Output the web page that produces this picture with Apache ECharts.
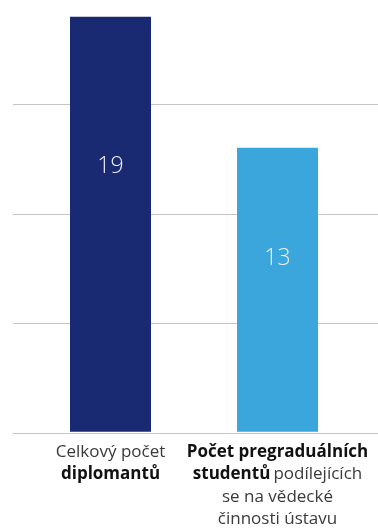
<!DOCTYPE html>
<html>
<head>
<meta charset="utf-8">
<script src="https://cdn.jsdelivr.net/npm/echarts@6/dist/echarts.min.js"></script>
<style>
  html, body { margin: 0; padding: 0; background: #ffffff; overflow: hidden; }
  /* canvas is 5px taller and shifted up so the top value sits just above the page edge */
  #chart { width: 378px; height: 533px; margin-top: -5px; }
</style>
</head>
<body>
<div id="chart"></div>
<script>
// Category labels (rich-text markup: n = regular, b = bold)
const categoryLabels = [
  '{n|Celkový počet}\n{b|diplomantů}',
  '{b|Počet pregraduálních}\n{b|studentů} {n|podílejících}\n{n|se na vědecké}\n{n|činnosti ústavu}'
];
const values = [19, 13];
const barColors = ['#1a2a72', '#3aa6db'];
// Vertical placement of each value label inside its bar (fraction from bar top)
const labelPositions = [['50%', '36%'], ['50%', '39%']];

const yMin = 0, yMax = 20, yStep = 5;
const FONT = '"Open Sans", "Noto Sans", sans-serif';

const chart = echarts.init(document.getElementById('chart'), null, { renderer: 'canvas' });

chart.setOption({
  animation: false,
  backgroundColor: '#ffffff',
  grid: [
    // wide grid: horizontal guide lines only
    { left: 13, right: 0, top: 0, bottom: 95 },
    // bar grid
    { left: 27, right: 17, top: 0, bottom: 95 }
  ],
  xAxis: [
    { gridIndex: 0, type: 'value', show: false, min: 0, max: 1 },
    {
      gridIndex: 1,
      type: 'category',
      data: categoryLabels,
      axisLine: { show: false },
      axisTick: { show: false },
      axisLabel: {
        interval: 0,
        margin: 9,
        fontFamily: FONT,
        rich: {
          n: { fontFamily: FONT, fontSize: 17, color: '#3a3a3a', lineHeight: 22.5 },
          b: { fontFamily: FONT, fontSize: 17, fontWeight: 'bold', color: '#111111', lineHeight: 22.5 }
        }
      }
    }
  ],
  yAxis: [
    {
      gridIndex: 0,
      type: 'value',
      min: yMin, max: yMax, interval: yStep,
      axisLine: { show: false },
      axisTick: { show: false },
      axisLabel: { show: false },
      splitLine: { show: true, lineStyle: { color: '#c4c4c4', width: 1 } }
    },
    {
      gridIndex: 1,
      type: 'value',
      min: yMin, max: yMax, interval: yStep,
      show: false
    }
  ],
  series: [{
    type: 'bar',
    xAxisIndex: 1,
    yAxisIndex: 1,
    barWidth: 81,
    data: values.map((v, i) => ({
      value: v,
      itemStyle: { color: barColors[i] },
      label: { position: labelPositions[i] }
    })),
    label: {
      show: true,
      align: 'center',
      verticalAlign: 'middle',
      color: '#eef0f6',
      fontFamily: FONT,
      fontWeight: 300,
      fontSize: 23
    }
  }]
});
</script>
</body>
</html>
